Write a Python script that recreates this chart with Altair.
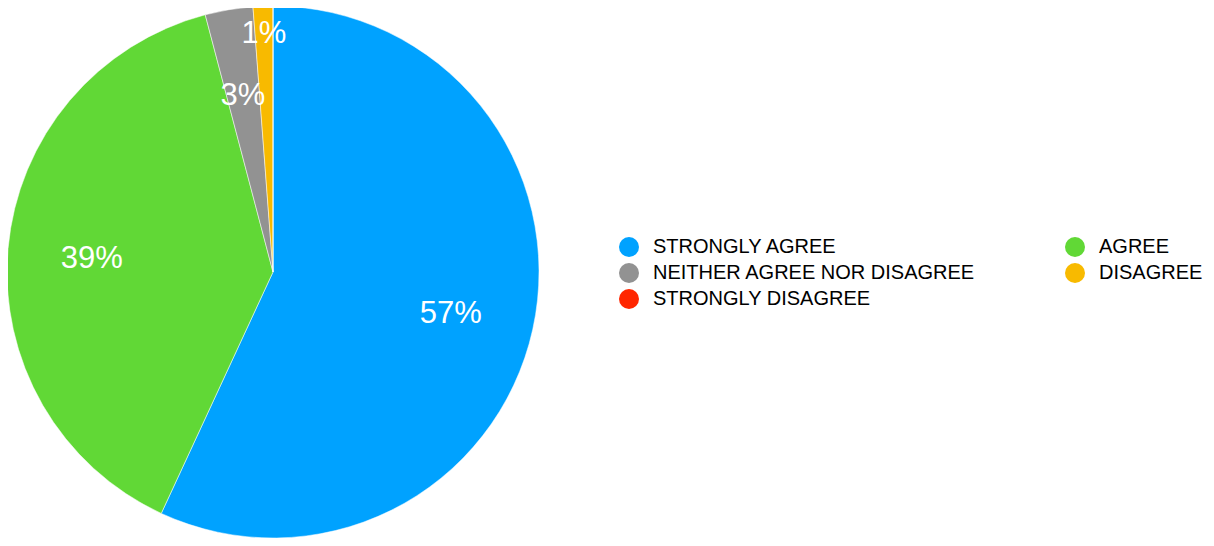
import altair as alt
import pandas as pd

categories = ["STRONGLY AGREE", "AGREE", "NEITHER AGREE NOR DISAGREE", "DISAGREE", "STRONGLY DISAGREE"]
values = [56.9, 39.0, 2.9, 1.2, 0.0]
labels = ["57%", "39%", "3%", "1%", ""]
order_idx = [0, 1, 2, 3, 4]
colors = ["#00A2FF", "#61D836", "#929292", "#F8BA00", "#FF2600"]

df = pd.DataFrame({"category": categories, "value": values, "label": labels, "idx": order_idx})

CX, CY, R = 265, 264, 266

base = alt.Chart(df).encode(
    theta=alt.Theta("value:Q", stack=True),
    order=alt.Order("idx:Q", sort="ascending"),
)

pie = base.mark_arc(outerRadius=R, stroke="white", strokeWidth=0.5).encode(
    x=alt.value(CX),
    y=alt.value(CY),
    color=alt.Color(
        "category:N",
        scale=alt.Scale(domain=categories, range=colors),
        sort=categories,
        legend=alt.Legend(
            title=None,
            orient="none",
            legendX=611,
            legendY=229,
            direction="horizontal",
            columns=2,
            columnPadding=89,
            rowPadding=6,
            symbolType="circle",
            symbolSize=400,
            symbolStrokeWidth=0,
            symbolOpacity=1,
            labelFont="Liberation Sans",
            labelFontSize=20,
            labelColor="#000000",
            labelOffset=14,
            labelLimit=600,
        ),
    ),
)

text_style = dict(font="Liberation Sans", fontSize=31, fill="white", align="center", baseline="middle", dy=3)

text_main = base.transform_calculate(
    t="datum.label == '1%' ? '' : datum.label"
).mark_text(radius=182, **text_style).encode(
    x=alt.value(CX), y=alt.value(CY), text="t:N"
)

text_small = base.transform_calculate(
    t="datum.label == '1%' ? datum.label : ''"
).mark_text(radius=241, **text_style).encode(
    x=alt.value(CX), y=alt.value(CY), text="t:N"
)

chart = alt.layer(pie, text_main, text_small).properties(
    width=1198,
    height=530,
    padding=0,
    autosize=alt.AutoSizeParams(type="none"),
    background="white",
).configure_view(stroke=None)

chart.save("out.html", embed_options={"renderer": "svg", "actions": False})
